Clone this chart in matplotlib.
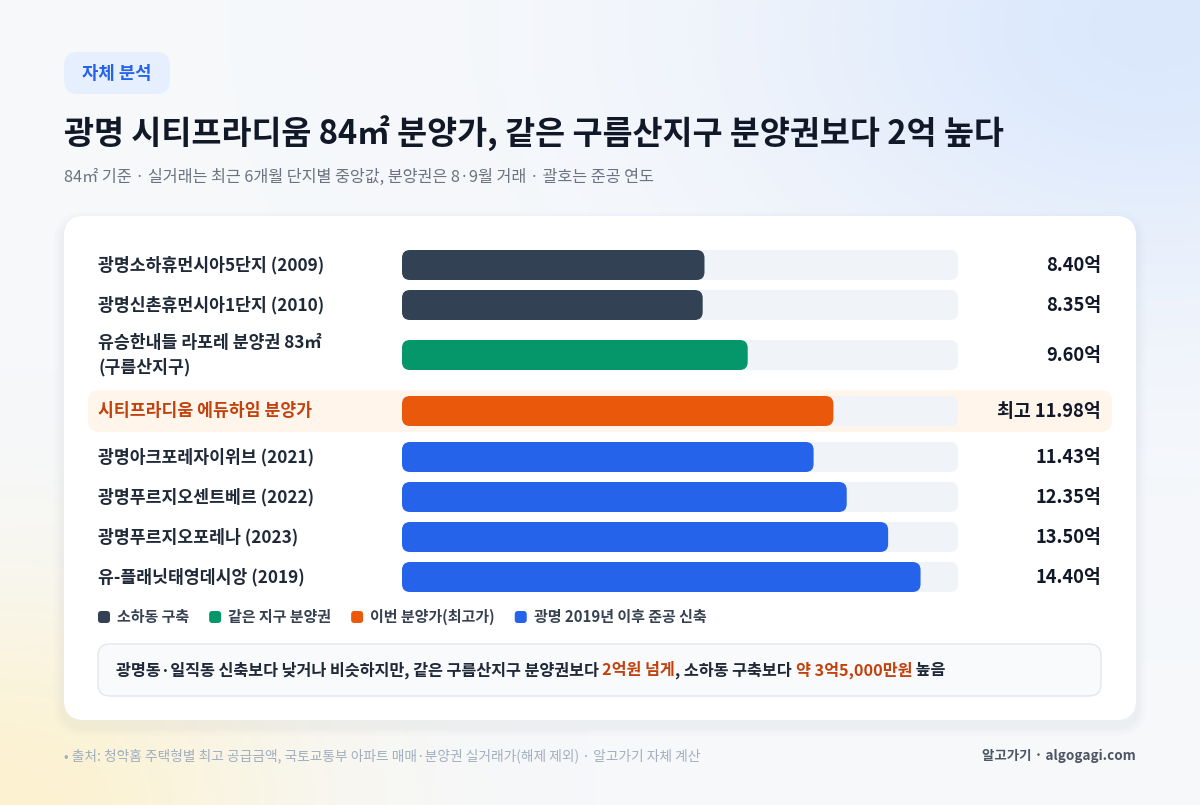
import numpy as np
import matplotlib
matplotlib.use("Agg")
import matplotlib.pyplot as plt
from matplotlib.patches import FancyBboxPatch

plt.rcParams['font.family'] = ['Noto Sans CJK KR', 'DejaVu Sans']

# data
labels = ["광명소하휴먼시아5단지 (2009)", "광명신촌휴먼시아1단지 (2010)",
          "유승한내들 라포레 분양권 83㎡\n(구름산지구)", "시티프라디움 에듀하임 분양가",
          "광명아크포레자이위브 (2021)", "광명푸르지오센트베르 (2022)",
          "광명푸르지오포레나 (2023)", "유-플래닛태영데시앙 (2019)"]
values = [8.40, 8.35, 9.60, 11.98, 11.43, 12.35, 13.50, 14.40]
groups = ["old", "old", "same", "this", "new", "new", "new", "new"]
value_text = ["8.40억", "8.35억", "9.60억", "최고 11.98억", "11.43억", "12.35억", "13.50억", "14.40억"]

group_names = {"old": "소하동 구축", "same": "같은 지구 분양권",
               "this": "이번 분양가(최고가)", "new": "광명 2019년 이후 준공 신축"}
colors = {"old": "#334155", "same": "#059669", "this": "#ea580c", "new": "#2563eb"}

W, H = 1200, 805
fig = plt.figure(figsize=(W / 100, H / 100), dpi=100)

# background axes in pixel units
bg = fig.add_axes([0, 0, 1, 1])
bg.set_xlim(0, W)
bg.set_ylim(H, 0)
bg.axis('off')

yy, xx = np.mgrid[0:H, 0:W]
base = np.array([0.965, 0.973, 0.984])
img = np.ones((H, W, 3)) * base
blue = np.exp(-(((xx - 1150) / 380) ** 2 + ((yy - 30) / 260) ** 2))
yel = np.exp(-(((xx - 0) / 300) ** 2 + ((yy - 805) / 220) ** 2))
img += blue[..., None] * (np.array([0.86, 0.91, 0.99]) - base)
img += yel[..., None] * (np.array([0.99, 0.95, 0.82]) - base)
bg.imshow(np.clip(img, 0, 1), extent=(0, W, H, 0), zorder=0)

# badge
bg.add_patch(FancyBboxPatch((64, 52), 106, 42, boxstyle="round,pad=0,rounding_size=14",
                            fc="#e6effd", ec="none", zorder=1))
bg.text(117, 74, "자체 분석", fontsize=12.8, fontweight='bold', color="#2563eb",
        ha='center', va='center', zorder=2)

bg.text(64, 134, "광명 시티프라디움 84㎡ 분양가, 같은 구름산지구 분양권보다 2억 높다",
        fontsize=23.5, fontweight='black', color="#111827", va='center', zorder=2)
bg.text(64, 177, "84㎡ 기준 · 실거래는 최근 6개월 단지별 중앙값, 분양권은 8·9월 거래 · 괄호는 준공 연도",
        fontsize=11.7, color="#6b7280", va='center', zorder=2)

# card with soft shadow
for i, a in enumerate([0.015, 0.02, 0.025]):
    p = 10 - i * 3
    bg.add_patch(FancyBboxPatch((64 - p, 216 - p + 6), 1072 + 2 * p, 504 + 2 * p,
                                boxstyle="round,pad=0,rounding_size=%d" % (20 + p),
                                fc="#64748b", ec="none", alpha=a, zorder=1))
bg.add_patch(FancyBboxPatch((64, 216), 1072, 504, boxstyle="round,pad=0,rounding_size=20",
                            fc="white", ec="none", zorder=1))

# row layout (pixels)
row_y = []
y = 265
for i, lab in enumerate(labels):
    if i > 0:
        step = 40
        if "\n" in labels[i - 1] or "\n" in lab:
            step += 10
        if groups[i] == "this" or groups[i - 1] == "this":
            step += 6
        y += step
    row_y.append(y)

# bar axes: x in data units, y in pixels
x0, x1 = 402, 958
xmax = 15.44
bx = fig.add_axes([x0 / W, 0, (x1 - x0) / W, 1])
bx.set_xlim(0, xmax)
bx.set_ylim(H, 0)
bx.axis('off')
bx.patch.set_alpha(0)
asp = (x1 - x0) / xmax
bh = 30
for i, v in enumerate(values):
    yc = row_y[i]
    if groups[i] == "this":
        bg.add_patch(FancyBboxPatch((88, yc - 21), 1024, 42, boxstyle="round,pad=0,rounding_size=12",
                                    fc="#fff5eb", ec="none", zorder=2))
    bx.add_patch(FancyBboxPatch((0, yc - bh / 2), xmax, bh,
                                boxstyle="round,pad=0,rounding_size=%f" % (8 / asp),
                                mutation_aspect=asp, fc="#f0f3f8", ec="none", zorder=3))
    bx.add_patch(FancyBboxPatch((0, yc - bh / 2), v, bh,
                                boxstyle="round,pad=0,rounding_size=%f" % (8 / asp),
                                mutation_aspect=asp, fc=colors[groups[i]], ec="none", zorder=4))
    lc = "#c2410c" if groups[i] == "this" else "#1f2937"
    bg.text(98, yc, labels[i], fontsize=12.4, fontweight='bold', color=lc, va='center',
            linespacing=1.4, zorder=5)
    bg.text(1101, yc, value_text[i], fontsize=13.2, fontweight='bold', color="#111827",
            ha='right', va='center', zorder=5)

# legend
lx = 98
ly = 617
for g in ["old", "same", "this", "new"]:
    bg.add_patch(FancyBboxPatch((lx, ly - 6), 12, 12, boxstyle="round,pad=0,rounding_size=3",
                                fc=colors[g], ec="none", zorder=5))
    t = bg.text(lx + 19, ly, group_names[g], fontsize=10.8, fontweight='bold', color="#374151",
                va='center', zorder=5)
    fig.canvas.draw()
    lx = t.get_window_extent().x1 + 20

# note box
bg.add_patch(FancyBboxPatch((98, 644), 1003, 52, boxstyle="round,pad=0,rounding_size=12",
                            fc="#f8fafc", ec="#e2e8f0", lw=1, zorder=5))
parts = [("광명동·일직동 신축보다 낮거나 비슷하지만, 같은 구름산지구 분양권보다 ", "#1f2937"),
         ("2억원 넘게", "#c2410c"), (", 소하동 구축보다 ", "#1f2937"),
         ("약 3억5,000만원", "#c2410c"), (" 높음", "#1f2937")]
nx = 116
for s, c in parts:
    t = bg.text(nx, 670, s, fontsize=11.7, fontweight='bold', color=c, va='center', zorder=6)
    fig.canvas.draw()
    nx = t.get_window_extent().x1

# footer
bg.text(64, 756, "• 출처: 청약홈 주택형별 최고 공급금액, 국토교통부 아파트 매매·분양권 실거래가(해제 제외) · 알고가기 자체 계산",
        fontsize=9.9, color="#a0aec0", va='center', zorder=2)
bg.text(1136, 756, "알고가기 · algogagi.com", fontsize=9.7, fontweight='bold', color="#4b5563",
        ha='right', va='center', zorder=2)

fig.savefig("out.png", dpi=100)
